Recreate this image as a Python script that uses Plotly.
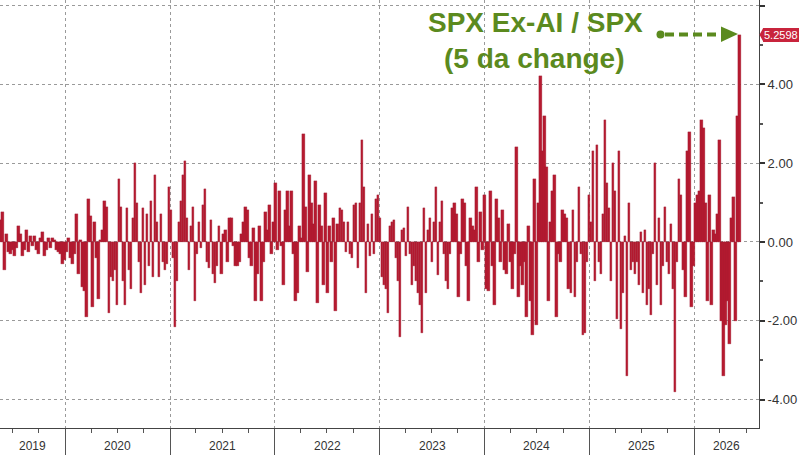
import pandas as pd
import plotly.graph_objects as go

# ---------------- data (weekly samples) ----------------
start_date = "2019-05-13"
values_2019_20 = [
    0.5, 0.55, 0.75, -0.7, 0.2, -0.25, -0.3, -0.2, -0.35, -0.15,
    0.4, 0.2, -0.35, -0.2, 0.3, -0.25, 0.15, -0.1, 0.15, -0.2,
    -0.3, 0.1, 0.25, -0.35, -0.2, 0.1, -0.15, 0.1, 0.05, -0.2,
    -0.25, -0.3, -0.55, -0.45, -0.25, 0.1, -0.4, -0.55, -0.3, 0.7,
    -0.8, 0.05, -1.15, -1.25, -1.9, 1.1, 0.65, -1.65, 0.5, -0.4,
    -1.45, 0.05, 0.3, 1.05, 0.9, -1.8, -0.9, -1.0, -0.7, -1.6,
    1.6, 0.9, -1.0, -1.6, 0.85, -0.7, -1.2, 0.6, 2.0, 1.0,
    -0.5, -1.3, 0.85, -1.1, 0.7, -0.6,
]
values_2021_22 = [
    1.05, -0.9, 1.7, 0.5, -0.9, 0.7, -0.5, -0.7, -0.55, 1.4,
    0.8, -0.4, -2.15, -1.0, 0.5, 1.05, 1.7, 2.05, 0.6, -0.7,
    0.4, 0.9, -1.5, -0.3, 0.5, -0.15, 0.95, 1.35, -0.5, -0.65,
    0.55, -0.8, -1.05, -0.6, 0.4, -0.8, 0.2, 0.3, -0.5, 0.6,
    0.6, -0.1, -0.6, -0.6, -0.5, 0.2, 0.5, 0.9, 0.8, -0.4,
    -0.6, 0.35, -1.5, -0.8, 0.4, -1.5, -0.5, 0.75, 0.3, 0.95,
    -0.3, 0.5, 1.5, -0.2, 1.3, -0.1, -1.1, 0.8, 1.3, 0.4,
    1.3, -0.3, -1.5, -1.3, 0.4, 0.1,
]
values_2022_23 = [
    2.75, 0.9, -0.75, 1.7, 1.0, 0.45, 1.55, -1.55, 0.95, 0.4,
    -1.1, 1.25, -1.3, 0.4, -0.5, 0.6, -1.75, 0.45, 0.85, 0.8,
    0.5, -0.25, 0.5, -0.3, -0.4, 0.95, 1.0, -0.65, 1.0, 2.6,
    1.4, -1.3, 0.45, -0.35, 0.7, -0.3, 1.1, 1.2, 0.6, -0.9,
    -1.1, -1.2, -1.8, 0.4, 0.5, 0.55, -0.4, -1.0, -2.4, 0.3,
    0.35, -0.35, 0.9, -0.3, -1.1, -0.6, -1.0, -1.3, -1.6, -2.3,
    0.85, -1.3, 0.3, 0.6, -0.5, 0.5, 1.4, -0.85, 0.5, 1.05,
    -0.3, -1.0, -1.2, -0.3, 0.85, 1.0,
]
values_2024_25 = [
    0.7, -1.4, -0.3, 1.1, 1.0, -0.6, -1.5, 0.6, 0.4, 0.3,
    1.4, -0.5, 0.75, -0.2, 1.2, -1.2, -1.25, 1.3, -0.6, -1.6,
    1.1, 0.6, -0.5, 0.8, -0.7, -0.8, 0.45, -0.5, -1.2, -0.3,
    2.4, -1.4, -0.6, -1.1, -0.5, -1.9, 0.4, -1.5, -2.35, 1.6,
    -2.1, 1.0, 4.2, 2.3, 3.2, 1.9, -1.5, 0.5, 1.3, 1.7,
    -1.9, -0.3, -0.5, 0.8, 0.7, 0.6, -1.2, -1.3, 0.8, -1.4,
    -0.5, 1.4, -0.3, -2.35, -2.3, -0.5, 1.2, 0.5, 2.3, -1.0,
    2.45, -0.5, -0.8, 0.7, 3.1, 1.5,
]
values_2025_26 = [
    0.85, -1.0, 2.0, 1.3, -1.95, 2.3, -2.2, -1.3, 0.15, -3.4,
    1.0, -0.7, -0.5, -0.8, -0.5, -1.1, 0.25, -1.3, 0.3, -1.6,
    -1.2, -1.85, -0.3, 2.0, -1.1, 0.6, -1.6, -0.6, 0.9, -0.5,
    -0.8, 0.45, -1.2, -3.8, -0.5, 1.6, 1.2, -0.7, -1.4, 2.3,
    2.8, -1.65, -0.6, 1.0, 1.2, 1.3, 3.1, 2.9, 1.0, -1.5,
    1.2, -1.6, 0.3, 0.2, 0.7, 2.6, -2.0, -3.4, -2.1, -1.5,
    -2.6, 0.6, 1.15, -2.0, 3.2, 5.2598,
]
values = values_2019_20 + values_2021_22 + values_2022_23 + values_2024_25 + values_2025_26
last_value = values[-1]
last_label = "5.2598"

year_list = [2019, 2020, 2021, 2022, 2023, 2024, 2025, 2026]
y_ticks = [-4, -2, 0, 2, 4, 6]
y_tick_text = [f"{v:.2f}" for v in y_ticks]
title_line1 = "SPX Ex-AI / SPX"
title_line2 = "(5 da change)"

x_range = ["2019-05-19", "2026-08-15"]
y_range = [-4.72, 6.14]

# ---------------- figure ----------------
dates = pd.date_range(start_date, periods=len(values), freq="7D")
week_ms = 7 * 24 * 3600 * 1000

BAR = "#B61A30"
BAR_EDGE = "#9A1C2E"
GREEN = "#5B8A1E"
GRID = "#9a9a9a"
TXT = "#333333"
LABEL_BG = "#C8243C"

fig = go.Figure(go.Bar(
    x=dates, y=values,
    width=week_ms * 1.25,
    marker=dict(color=BAR, line=dict(color=BAR_EDGE, width=0.3)),
    hoverinfo="skip",
))

year_starts = [f"{y}-01-01" for y in year_list[1:]]

PW, PH = 759.0, 428.0
def fx(px):
    return px / PW
def fy(py):
    return 1 - py / PH

fig.update_layout(
    width=800, height=455,
    margin=dict(l=0, r=41, t=0, b=27, autoexpand=False),
    paper_bgcolor="white", plot_bgcolor="white",
    showlegend=False, bargap=0,
    font=dict(family="Liberation Sans, Arial, sans-serif", color=TXT, size=12),
    xaxis=dict(
        type="date", range=x_range,
        tickvals=year_starts, ticktext=[""] * len(year_starts),
        ticks="outside", ticklen=27, tickcolor="#555", tickwidth=1,
        showgrid=True, gridcolor=GRID, griddash="dot", gridwidth=1,
        showline=True, linecolor="#444", linewidth=1,
        minor=dict(dtick="M3", tick0="2019-01-01", ticks="outside",
                   ticklen=4, tickcolor="#555", showgrid=False),
        fixedrange=True,
    ),
    yaxis=dict(
        side="right", range=y_range,
        tickvals=y_ticks, ticktext=y_tick_text,
        ticks="outside", ticklen=5, tickcolor="#333", tickwidth=2,
        tickfont=dict(size=13, color=TXT),
        showgrid=True, gridcolor=GRID, griddash="dot", gridwidth=1,
        zeroline=False,
        showline=True, linecolor="#444", linewidth=1,
        minor=dict(dtick=1, tick0=1, ticks="outside", ticklen=3,
                   tickcolor="#555", showgrid=False),
        fixedrange=True,
    ),
)

# year labels centred in the visible part of each year
annotations = []
rs, re_ = pd.Timestamp(x_range[0]), pd.Timestamp(x_range[1])
for y in year_list:
    lo = max(pd.Timestamp(f"{y}-01-01"), rs)
    hi = min(pd.Timestamp(f"{y + 1}-01-01"), re_)
    c = lo + (hi - lo) / 2
    annotations.append(dict(
        x=c, y=fy(446), xref="x", yref="paper", text=str(y),
        showarrow=False, xanchor="center", yanchor="middle",
        font=dict(size=12, color=TXT),
    ))

# title text
for txt, py, cx in [(title_line1, 23, 535), (title_line2, 59, 534)]:
    annotations.append(dict(
        x=fx(cx), y=fy(py), xref="paper", yref="paper",
        text=f"<b>{txt}</b>", showarrow=False,
        xanchor="center", yanchor="middle",
        font=dict(size=28, color=GREEN, family="Liberation Sans, Arial, sans-serif"),
    ))

# last value label
annotations.append(dict(
    x=fx(763), y=last_value, xref="paper", yref="y",
    text=last_label, showarrow=False, xanchor="left", yanchor="middle",
    bgcolor=LABEL_BG, borderpad=1, borderwidth=0,
    font=dict(size=11, color="white"),
))
fig.update_layout(annotations=annotations)

tri_h = 0.17
shapes = [
    # dot
    dict(type="circle", xref="paper", yref="paper",
         x0=fx(656.5), x1=fx(664.5), y0=fy(38.5), y1=fy(30.5),
         fillcolor=GREEN, line=dict(width=0)),
    # dashed shaft
    dict(type="line", xref="paper", yref="paper",
         x0=fx(665), x1=fx(724), y0=fy(34.5), y1=fy(34.5),
         line=dict(color=GREEN, width=4, dash="9px,5px")),
    # arrow head
    dict(type="path", xref="paper", yref="paper",
         path=f"M {fx(721)},{fy(26.5)} L {fx(738)},{fy(34)} L {fx(721)},{fy(42)} Z",
         fillcolor=GREEN, line=dict(width=0)),
    # pointer on the value label
    dict(type="path", xref="paper", yref="y",
         path=(f"M {fx(759.5)},{last_value} L {fx(763.2)},{last_value + tri_h} "
               f"L {fx(763.2)},{last_value - tri_h} Z"),
         fillcolor=LABEL_BG, line=dict(width=0)),
]
fig.update_layout(shapes=shapes)

fig.write_html("out.html")
